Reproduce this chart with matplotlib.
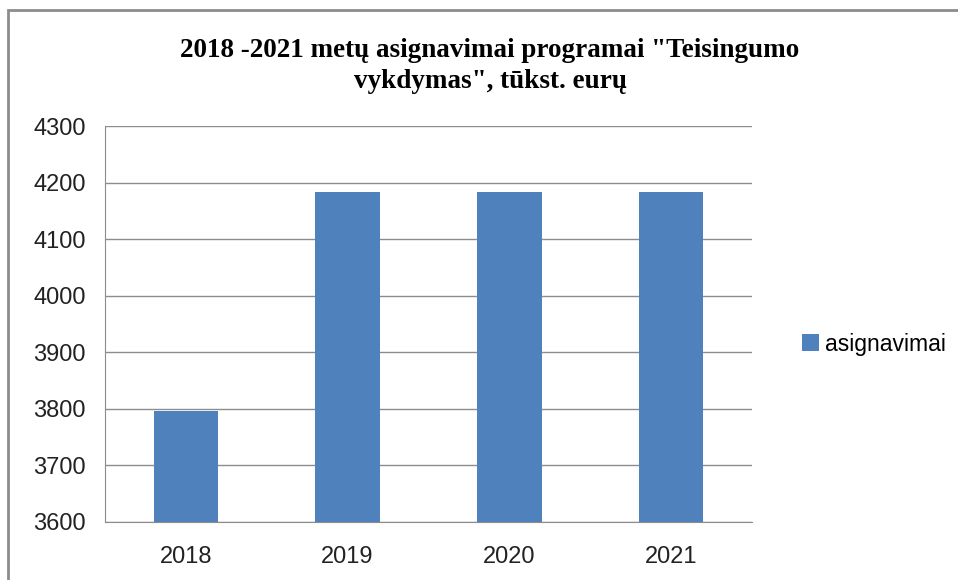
import matplotlib
matplotlib.use('Agg')
import matplotlib.pyplot as plt
from matplotlib.patches import Rectangle

years = ['2018', '2019', '2020', '2021']
asignavimai = [3796, 4183, 4183, 4183]
yticks = [3600, 3700, 3800, 3900, 4000, 4100, 4200, 4300]

W, H = 958, 580
fig = plt.figure(figsize=(W / 100, H / 100), dpi=100)
fig.patch.set_facecolor('white')

# outer chart frame (runs off the right and bottom edges)
fig.patches.append(Rectangle((8 / W, -0.05), 1.0, 1 - 10 / H + 0.05,
                             transform=fig.transFigure, fill=False,
                             edgecolor='#8c8c8c', linewidth=2))

ax = fig.add_axes([105 / W, 1 - 522 / H, (752 - 105) / W, (522 - 126) / H])
ax.bar(years, asignavimai, width=0.4, color='#4f81bd', zorder=3,
       label='asignavimai')
ax.set_ylim(3600, 4300)
ax.set_xlim(-0.5, 3.5)
ax.set_yticks(yticks)
ax.grid(axis='y', color='#8c8c8c', linewidth=1, zorder=0)
for s in ['top', 'right']:
    ax.spines[s].set_visible(False)
for s in ['left', 'bottom']:
    ax.spines[s].set_color('#8c8c8c')
ax.tick_params(length=0, labelsize=17, colors='#222222', pad=14)
ax.tick_params(axis='x', pad=17)
for lab in ax.get_xticklabels() + ax.get_yticklabels():
    lab.set_family('Liberation Sans')

fig.text(490 / W, 1 - 66 / H,
         '2018 -2021 metų asignavimai programai "Teisingumo\nvykdymas", tūkst. eurų',
         ha='center', va='center', fontsize=19.5, fontweight='bold',
         family='Liberation Serif', linespacing=1.3)

leg = fig.legend(loc='center left', bbox_to_anchor=(781 / W, 1 - 344 / H),
                 frameon=False, handlelength=0.75,
                 handleheight=0.75, handletextpad=0.25,
                 prop={'family': 'Liberation Sans', 'size': 16.5})

fig.savefig('out.png', dpi=100)
